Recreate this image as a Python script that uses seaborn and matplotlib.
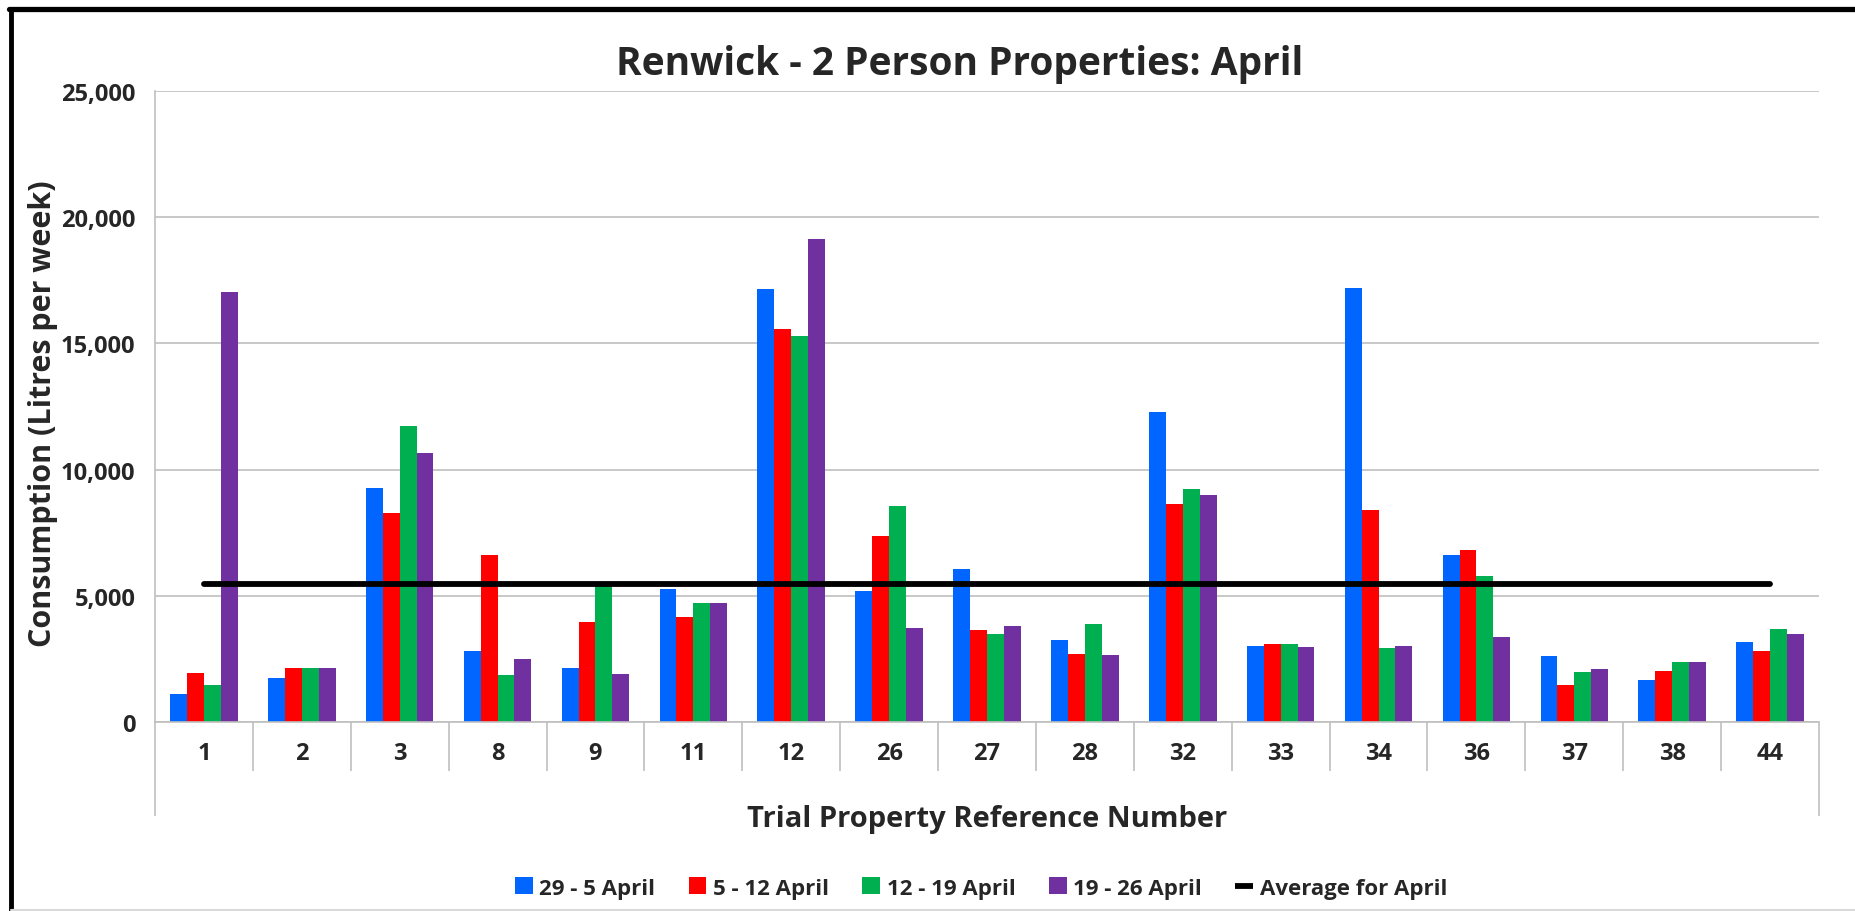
import matplotlib
matplotlib.use("Agg")
import matplotlib.pyplot as plt
from matplotlib.lines import Line2D
import seaborn as sns
import numpy as np
import pandas as pd

# property reference numbers on the x axis
properties = ["1", "2", "3", "8", "9", "11", "12", "26", "27", "28",
              "32", "33", "34", "36", "37", "38", "44"]

# weekly consumption, litres per week
week_29_5 = [1100, 1750, 9280, 2800, 2130, 5250, 17170, 5180, 6080, 3250,
             12270, 3000, 17180, 6620, 2600, 1650, 3150]
week_5_12 = [1950, 2150, 8280, 6630, 3980, 4170, 15570, 7350, 3630, 2700,
             8630, 3100, 8400, 6830, 1470, 2030, 2800]
week_12_19 = [1470, 2150, 11720, 1850, 5380, 4730, 15280, 8570, 3470, 3900,
              9230, 3080, 2920, 5800, 1970, 2380, 3680]
week_19_26 = [17020, 2150, 10670, 2500, 1900, 4700, 19120, 3720, 3820, 2670,
              9000, 2980, 3020, 3370, 2100, 2370, 3480]
april_average = 5480

series_names = ["29 - 5 April", "5 - 12 April", "12 - 19 April", "19 - 26 April"]
series_colors = ["#0066FF", "#FF0000", "#00B050", "#7030A0"]

df = pd.DataFrame({
    "property": properties * 4,
    "week": np.repeat(series_names, len(properties)),
    "litres": week_29_5 + week_5_12 + week_12_19 + week_19_26,
})

sns.set_theme(style="white")
plt.rcParams["font.family"] = ["Open Sans", "DejaVu Sans"]
plt.rcParams["font.weight"] = "bold"

fig = plt.figure(figsize=(18.56, 9.12), dpi=100)
ax = fig.add_axes([155 / 1856, 1 - 723 / 912, (1819 - 155) / 1856, (723 - 92) / 912])

sns.barplot(data=df, x="property", y="litres", hue="week", order=properties,
            hue_order=series_names, palette=series_colors, saturation=1,
            width=0.69, gap=0, linewidth=0, ax=ax)

# monthly average line from first to last property
ax.hlines(april_average, 0, len(properties) - 1, color="black", lw=4.2,
          capstyle="round", label="Average for April", zorder=5)

grid_col = "#BFBFBF"
ax.set_ylim(0, 25000)
ax.set_xlim(-0.5, len(properties) - 0.5)
ax.set_yticks(np.arange(0, 25001, 5000))
ax.set_yticklabels([f"{v:,}" for v in range(0, 25001, 5000)], fontweight="bold")
ax.set_xticks(range(len(properties)))
ax.set_xticklabels(properties, fontweight="bold")
ax.yaxis.grid(True, color=grid_col, lw=1.2)
ax.set_axisbelow(True)
ax.tick_params(axis="y", length=6, color=grid_col, width=1.2, labelsize=17, pad=8)
ax.tick_params(axis="x", length=0, labelsize=17, pad=14)
for side in ["top", "right"]:
    ax.spines[side].set_visible(False)
for side in ["left", "bottom"]:
    ax.spines[side].set_color(grid_col)
    ax.spines[side].set_linewidth(1.2)

# category divider lines under the axis
trans = ax.get_xaxis_transform()
bounds = np.arange(len(properties) + 1) - 0.5
ax.vlines(bounds[1:-1], -0.078, 0, transform=trans, color=grid_col, lw=1.2, clip_on=False)
ax.vlines([bounds[0], bounds[-1]], -0.149, 0, transform=trans, color=grid_col, lw=1.2, clip_on=False)

ax.set_ylabel("Consumption (Litres per week)", fontsize=22, fontweight="bold", va="center")
ax.yaxis.set_label_coords(-112 / 1664, 0.49)
ax.set_xlabel("Trial Property Reference Number", fontsize=21, fontweight="bold", va="center")
ax.xaxis.set_label_coords(0.5, -97 / 631)
fig.text(960 / 1856, 1 - 64 / 912, "Renwick - 2 Person Properties: April",
         ha="center", va="center", fontsize=28, fontweight="bold")

handles, labels = ax.get_legend_handles_labels()
ax.get_legend().remove()
fig.legend(handles, labels, loc="center", bbox_to_anchor=(981 / 1856, 1 - 889 / 912),
           ncol=5, frameon=False, handlelength=0.8, handleheight=0.8,
           handletextpad=0.3, columnspacing=1.5, prop={"weight": "bold", "size": 16})

# outer frame
fig.add_artist(Line2D([11 / 1856, 11 / 1856], [0, 1 - 9.5 / 912], color="black", lw=3.5,
                      transform=fig.transFigure))
fig.add_artist(Line2D([9 / 1856, 1], [1 - 9.5 / 912, 1 - 9.5 / 912], color="black", lw=3.8,
                      transform=fig.transFigure))
fig.add_artist(Line2D([11 / 1856, 1], [1.5 / 912, 1.5 / 912], color="#D9D9D9", lw=1.5,
                      transform=fig.transFigure))

fig.savefig("out.png", dpi=100)
